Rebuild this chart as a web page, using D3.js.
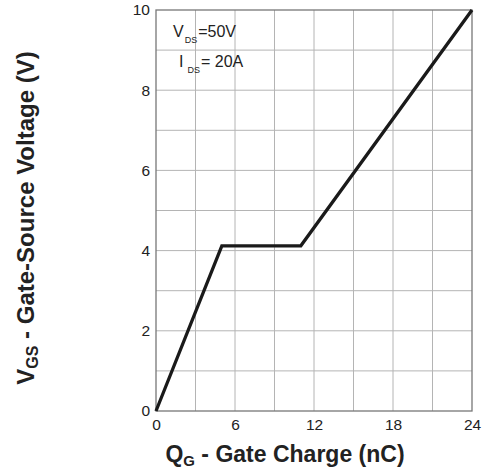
<!DOCTYPE html>
<html><head><meta charset="utf-8">
<script src="https://cdn.jsdelivr.net/npm/d3@7"></script>
<style>body{margin:0;background:#fff}svg{display:block}</style>
</head><body>
<script>
const qg = [0, 5.0, 11.0, 24];
const vgs = [0, 4.12, 4.12, 10];
const xTicks = [0, 6, 12, 18, 24];
const yTicks = [0, 2, 4, 6, 8, 10];
const xGrid = [3, 6, 9, 12, 15, 18, 21];
const yGrid = [1, 2, 3, 4, 5, 6, 7, 8, 9];

const W = 483, H = 470;
const m = {l: 156, r: 11, t: 10, b: 59};
const svg = d3.select("body").append("svg").attr("width", W).attr("height", H);
const x = d3.scaleLinear().domain([0, 24]).range([m.l, W - m.r]);
const y = d3.scaleLinear().domain([0, 10]).range([H - m.b, m.t]);
const font = "Arial, 'Liberation Sans', sans-serif";

svg.append("g").selectAll("line").data(xGrid).join("line")
  .attr("x1", d => x(d)).attr("x2", d => x(d)).attr("y1", y(0)).attr("y2", y(10))
  .attr("stroke", "#b4b4b4").attr("stroke-width", 1);
svg.append("g").selectAll("line").data(yGrid).join("line")
  .attr("y1", d => y(d)).attr("y2", d => y(d)).attr("x1", x(0)).attr("x2", x(24))
  .attr("stroke", "#b4b4b4").attr("stroke-width", 1);

svg.append("rect").attr("x", x(0)).attr("y", y(10)).attr("width", x(24) - x(0)).attr("height", y(0) - y(10))
  .attr("fill", "none").attr("stroke", "#777").attr("stroke-width", 1.3);

const xa = svg.append("g").attr("transform", `translate(0,${y(0)})`)
  .call(d3.axisBottom(x).tickValues(xTicks).tickSize(0).tickPadding(8));
xa.select(".domain").remove();
xa.selectAll("text").attr("font-family", font).attr("font-size", 15.5).attr("fill", "#222");

const ya = svg.append("g").attr("transform", `translate(${x(0)},0)`)
  .call(d3.axisLeft(y).tickValues(yTicks).tickSize(0).tickPadding(6));
ya.select(".domain").remove();
ya.selectAll("text").attr("font-family", font).attr("font-size", 15.5).attr("fill", "#222");

const pts = qg.map((d, i) => [d, vgs[i]]);
svg.append("path").datum(pts)
  .attr("d", d3.line().x(d => x(d[0])).y(d => y(d[1])))
  .attr("fill", "none").attr("stroke", "#1a1a1a").attr("stroke-width", 3.3).attr("stroke-linejoin", "miter");

// annotations
const a1 = svg.append("text").attr("x", 173).attr("y", 37).attr("font-family", font).attr("font-size", 16).attr("fill", "#222");
a1.append("tspan").text("V");
a1.append("tspan").attr("font-size", 9).attr("dy", 6).attr("dx", 1).text("DS");
a1.append("tspan").attr("dy", -6).attr("dx", 1).text("=50V");
const a2 = svg.append("text").attr("x", 179).attr("y", 67).attr("font-family", font).attr("font-size", 16).attr("fill", "#222");
a2.append("tspan").text("I");
a2.append("tspan").attr("font-size", 9).attr("dy", 6).attr("dx", 4).text("DS");
a2.append("tspan").attr("dy", -6).attr("dx", 1).text("= 20A");

// axis titles
const xt = svg.append("text").attr("x", 285).attr("y", 462).attr("text-anchor", "middle")
  .attr("font-family", font).attr("font-size", 23).attr("font-weight", "bold").attr("fill", "#222");
xt.append("tspan").text("Q");
xt.append("tspan").attr("font-size", 15).attr("dy", 4).text("G");
xt.append("tspan").attr("dy", -4).text(" - Gate Charge (nC)");

const yt = svg.append("text").attr("transform", `translate(34,218) rotate(-90)`).attr("text-anchor", "middle")
  .attr("font-family", font).attr("font-size", 24).attr("font-weight", "bold").attr("fill", "#222");
yt.append("tspan").text("V");
yt.append("tspan").attr("font-size", 16).attr("dy", 4).text("GS");
yt.append("tspan").attr("dy", -4).text(" - Gate-Source Voltage (V)");
</script>
</body></html>
